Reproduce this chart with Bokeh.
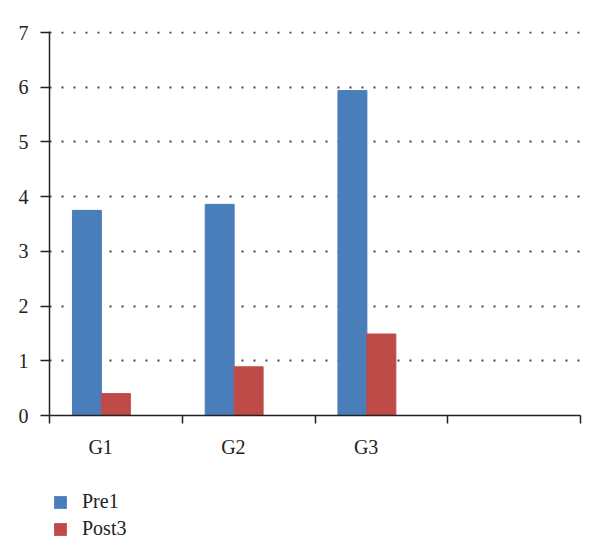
from bokeh.plotting import figure
from bokeh.layouts import column
from bokeh.models import ColumnDataSource, FixedTicker, Range1d, Legend, LegendItem
from bokeh.embed import file_html
from bokeh.resources import INLINE

groups = ["G1", "G2", "G3"]
series = ["Pre1", "Post3"]
pre1 = [3.75, 3.86, 5.94]
post3 = [0.40, 0.89, 1.49]
y_ticks = [0, 1, 2, 3, 4, 5, 6, 7]
colors = ["#4a7ebb", "#be4b48"]

FONT = "Liberation Serif"
n_slots = 4
idx = list(range(len(groups)))
pre_x = [i + 0.282 for i in idx]
post_x = [i + 0.5 for i in idx]
label_x = [i + 0.385 for i in idx]

p = figure(width=590, height=460, output_backend="svg", toolbar_location=None,
           x_range=Range1d(0, n_slots), y_range=Range1d(0, 7.02),
           min_border_left=49, min_border_top=31, min_border_right=10,
           min_border_bottom=41)
p.outline_line_color = None
p.background_fill_color = "white"

src_pre = ColumnDataSource(dict(x=pre_x, top=pre1))
src_post = ColumnDataSource(dict(x=post_x, top=post3))
p.vbar(x="x", top="top", bottom=0, width=0.218, source=src_pre,
       fill_color=colors[0], line_color=colors[0])
p.vbar(x="x", top="top", bottom=0, width=0.218, source=src_post,
       fill_color=colors[1], line_color=colors[1])

# x axis
xa = p.xaxis[0]
xa.ticker = FixedTicker(ticks=label_x, minor_ticks=list(range(n_slots + 1)))
xa.major_label_overrides = {x: g for x, g in zip(label_x, groups)}
xa.major_tick_line_color = None
xa.minor_tick_out = 8
xa.minor_tick_in = 0
xa.minor_tick_line_color = "#222222"
xa.minor_tick_line_width = 1.5
xa.axis_line_color = "#222222"
xa.axis_line_width = 1.5
xa.major_label_text_font = FONT
xa.major_label_text_font_size = "20px"
xa.major_label_text_color = "#222222"
xa.major_label_standoff = 12

# y axis
ya = p.yaxis[0]
ya.ticker = FixedTicker(ticks=y_ticks)
ya.minor_tick_line_color = None
ya.major_tick_out = 9
ya.major_tick_in = 0
ya.major_tick_line_color = "#222222"
ya.major_tick_line_width = 1.5
ya.axis_line_color = "#222222"
ya.axis_line_width = 1.5
ya.major_label_text_font = FONT
ya.major_label_text_font_size = "20px"
ya.major_label_text_color = "#222222"
ya.major_label_standoff = 12

p.xgrid.grid_line_color = None
p.ygrid.ticker = FixedTicker(ticks=y_ticks[1:])
p.ygrid.grid_line_color = "#444444"
p.ygrid.grid_line_width = 2
p.ygrid.grid_line_dash = "2 10"

# legend in a small figure below (dummy zero-size renderers)
pl = figure(width=590, height=90, output_backend="svg", toolbar_location=None,
            x_range=Range1d(0, 1), y_range=Range1d(0, 1),
            min_border=0, x_axis_type=None, y_axis_type=None)
pl.outline_line_color = None
pl.xgrid.grid_line_color = None
pl.ygrid.grid_line_color = None
items = []
for name, c in zip(series, colors):
    r = pl.vbar(x=[0.5], top=[0.5], bottom=0.5, width=0.0,
                fill_color=c, line_color=None)
    items.append(LegendItem(label=name, renderers=[r]))
legend = Legend(items=items, orientation="vertical", location=(3, 10))
legend.border_line_color = None
legend.background_fill_alpha = 0
legend.label_text_font = FONT
legend.label_text_font_size = "20px"
legend.label_text_color = "#222222"
legend.glyph_width = 16
legend.glyph_height = 16
legend.spacing = 4
legend.label_standoff = 14
legend.margin = 0
legend.padding = 0
legend.label_height = 16
pl.add_layout(legend, "center")

layout = column(p, pl, spacing=0)
open("out.html", "w").write(file_html(layout, INLINE))
